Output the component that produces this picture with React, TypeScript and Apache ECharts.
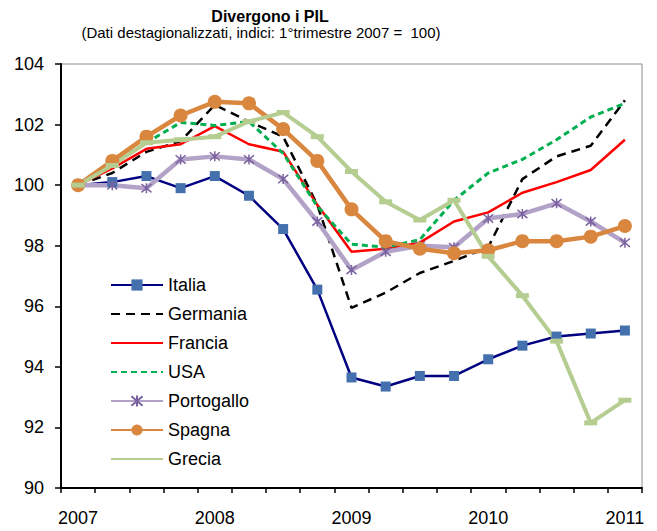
import React, { useEffect, useRef } from "react";
import * as echarts from "echarts";

const categories = [
  "2007 T1", "2007 T2", "2007 T3", "2007 T4",
  "2008 T1", "2008 T2", "2008 T3", "2008 T4",
  "2009 T1", "2009 T2", "2009 T3", "2009 T4",
  "2010 T1", "2010 T2", "2010 T3", "2010 T4",
  "2011 T1",
];

const italia = [100, 100.1, 100.3, 99.9, 100.3, 99.65, 98.55, 96.55, 93.65, 93.35, 93.7, 93.7, 94.25, 94.7, 95.0, 95.1, 95.2];
const germania = [100, 100.4, 101.1, 101.45, 102.65, 102.1, 101.6, 99.35, 95.95, 96.45, 97.1, 97.5, 97.95, 100.2, 100.95, 101.3, 102.8];
const francia = [100, 100.55, 101.2, 101.35, 101.95, 101.35, 101.1, 99.35, 97.8, 97.9, 98.1, 98.8, 99.1, 99.75, 100.1, 100.5, 101.5];
const usa = [100, 100.7, 101.4, 102.07, 101.97, 102.1, 101.05, 99.3, 98.05, 97.95, 98.2, 99.5, 100.4, 100.85, 101.5, 102.25, 102.7];
const portogallo = [100, 100.0, 99.9, 100.85, 100.95, 100.85, 100.2, 98.8, 97.2, 97.8, 98.0, 97.95, 98.9, 99.05, 99.4, 98.8, 98.1];
const spagna = [100, 100.8, 101.6, 102.3, 102.75, 102.7, 101.85, 100.8, 99.2, 98.15, 97.9, 97.75, 97.85, 98.15, 98.15, 98.3, 98.65];
const grecia = [100, 100.65, 101.4, 101.5, 101.6, 102.1, 102.4, 101.6, 100.45, 99.45, 98.85, 99.5, 97.65, 96.35, 94.85, 92.15, 92.9];

const FONT = "'Liberation Sans', Arial, sans-serif";
const ASTERISK = "path://M0,0L10,10M10,0L0,10M5,-1L5,11";

export default function App() {
  const ref = useRef<HTMLDivElement>(null);
  useEffect(() => {
    if (!ref.current) return;
    const chart = echarts.init(ref.current, undefined, { renderer: "svg" });
    const option: any = {
      animation: false,
      backgroundColor: "#fff",
      textStyle: { fontFamily: FONT },
      graphic: [
        {
          type: "text",
          x: 270,
          y: 16,
          style: {
            text: "Divergono i PIL",
            font: `bold 16px ${FONT}`,
            lineHeight: 16,
            fill: "#000",
            textAlign: "center",
            textVerticalAlign: "middle",
          },
        },
        {
          type: "text",
          x: 261,
          y: 32.5,
          style: {
            text: "(Dati destagionalizzati, indici: 1°trimestre 2007 =  100)",
            font: `15px ${FONT}`,
            lineHeight: 15,
            fill: "#000",
            textAlign: "center",
            textVerticalAlign: "middle",
          },
        },
      ],
      grid: {
        left: 61,
        right: 15,
        top: 64,
        bottom: 43,
        show: true,
        borderColor: "#8c8c8c",
        borderWidth: 1,
      },
      legend: {
        orient: "vertical",
        left: 105,
        top: 270,
        itemWidth: 52,
        itemHeight: 14,
        itemGap: 9,
        textStyle: { fontSize: 18, color: "#000", fontFamily: FONT, lineHeight: 20 },
        data: [
          "Italia",
          { name: "Germania", itemStyle: { opacity: 0 } },
          { name: "Francia", itemStyle: { opacity: 0 } },
          { name: "USA", itemStyle: { opacity: 0 } },
          "Portogallo",
          "Spagna",
          { name: "Grecia", itemStyle: { opacity: 0 } },
        ],
      },
      xAxis: {
        type: "category",
        data: categories,
        boundaryGap: true,
        axisLine: { lineStyle: { color: "#000", width: 2 } },
        axisTick: { show: true, interval: 0, length: 5, lineStyle: { color: "#000", width: 1.5 } },
        axisLabel: {
          interval: 3,
          fontSize: 18,
          color: "#000",
          fontFamily: FONT,
          margin: 21,
          formatter: (v: string) => v.slice(0, 4),
        },
        splitLine: { show: false },
      },
      yAxis: {
        type: "value",
        min: 90,
        max: 104,
        interval: 2,
        axisLine: { show: true, lineStyle: { color: "#000", width: 2 } },
        axisTick: { show: true, length: 6, lineStyle: { color: "#000", width: 1.5 } },
        axisLabel: { fontSize: 18, color: "#000", fontFamily: FONT, margin: 17 },
        splitLine: { show: false },
      },
      series: [
        {
          name: "Italia",
          type: "line",
          data: italia,
          symbol: "rect",
          symbolSize: 10,
          lineStyle: { color: "#000080", width: 2.5 },
          itemStyle: { color: "#4470AE" },
        },
        {
          name: "Germania",
          type: "line",
          data: germania,
          symbol: "none",
          lineStyle: { color: "#000", width: 2.5, type: [9, 6] },
          itemStyle: { color: "#000" },
        },
        {
          name: "Francia",
          type: "line",
          data: francia,
          symbol: "none",
          lineStyle: { color: "#ff0000", width: 2.5 },
          itemStyle: { color: "#ff0000" },
        },
        {
          name: "USA",
          type: "line",
          data: usa,
          symbol: "none",
          lineStyle: { color: "#00b050", width: 3, type: [6, 4] },
          itemStyle: { color: "#00b050" },
        },
        {
          name: "Portogallo",
          type: "line",
          data: portogallo,
          symbol: ASTERISK,
          symbolSize: 10,
          lineStyle: { color: "#b3a2c7", width: 4.5 },
          itemStyle: { color: "#7a62a0", borderColor: "#7a62a0", borderWidth: 1.5 },
        },
        {
          name: "Spagna",
          type: "line",
          data: spagna,
          symbol: "circle",
          symbolSize: 14,
          lineStyle: { color: "#d9873e", width: 4.5 },
          itemStyle: { color: "#d9873e" },
        },
        {
          name: "Grecia",
          type: "line",
          data: grecia,
          symbol: "rect",
          symbolSize: [13, 5],
          lineStyle: { color: "#b6cd92", width: 4 },
          itemStyle: { color: "#b6cd92" },
        },
      ],
    };
    chart.setOption(option);
    return () => chart.dispose();
  }, []);
  return <div ref={ref} style={{ width: 657, height: 531, position: "absolute", left: 0, top: 0 }} />;
}
